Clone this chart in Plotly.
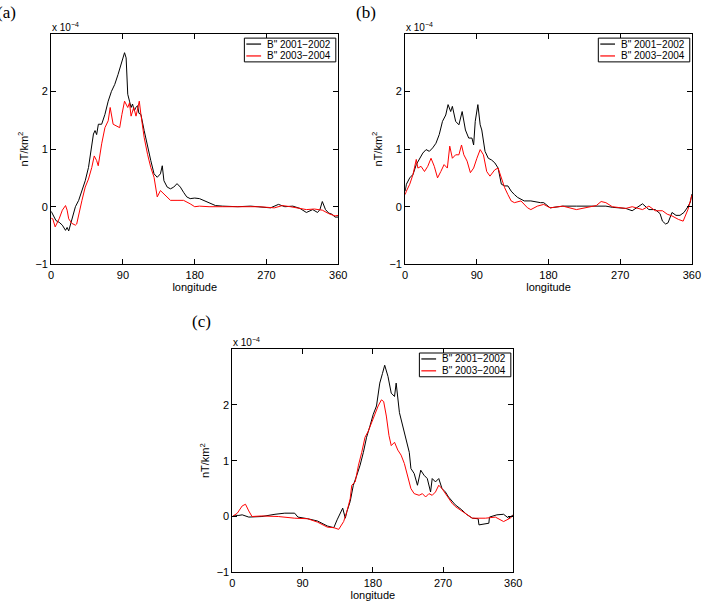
import plotly.graph_objects as go

# ---------------- data (values in units of 1e-4 nT/km^2) ----------------
a_black_lon = [0, 3, 6, 10, 14, 18, 20, 22, 24, 26, 28, 30.4, 34.5, 38.6, 42.7, 46.8, 50.9, 53, 55, 57,
               59.2, 63.3, 67.4, 71.5, 75.6, 79.7, 83.8, 87.9, 90, 92, 94, 96, 98.2, 100.2, 102, 104.3,
               106, 108.4, 110, 112.5, 116.6, 120.8, 124.9, 129, 133, 137, 139.3, 141.4, 145.5, 149.6,
               153.7, 157.8, 162, 166, 170, 174.3, 180, 186, 192, 198, 206, 215, 234, 250, 265, 275,
               285, 293, 303, 312, 320, 324, 328, 334, 337, 340, 344, 348, 352, 356, 360]
a_black = [-0.08, -0.15, -0.24, -0.27, -0.32, -0.41, -0.36, -0.42, -0.32, -0.2, -0.1, 0.0, 0.11, 0.28,
           0.45, 0.68, 1.03, 1.26, 1.32, 1.25, 1.43, 1.43, 1.6, 1.83, 2.0, 2.12, 2.29, 2.49, 2.55, 2.67,
           2.58, 1.95, 1.83, 1.72, 1.78, 1.66, 1.72, 1.75, 1.62, 1.6, 1.32, 1.03, 0.8, 0.57, 0.51, 0.57,
           0.71, 0.45, 0.34, 0.31, 0.34, 0.4, 0.34, 0.25, 0.17, 0.14, 0.15, 0.14, 0.1, 0.07, 0.02, 0.01,
           0.0, 0.01, -0.01, -0.02, 0.04, 0.0, 0.01, -0.03, -0.1, -0.08, -0.05, -0.1, -0.05, 0.09, -0.05,
           -0.11, -0.13, -0.18, -0.18]

a_red_lon = [0, 2, 5, 8, 10, 14, 18, 20, 22, 26, 30.4, 32, 34.5, 38.6, 42.7, 46.8, 50.9, 54, 57, 59,
             63.3, 67.4, 71.5, 74, 77.7, 81.8, 85.9, 88.7, 92, 96, 98.2, 100.2, 103.5, 106.4, 110.5,
             112.5, 116.6, 120.8, 124.9, 129, 133, 137, 141.4, 145.5, 149.6, 157.8, 166, 174.3, 180,
             186, 198, 215, 240, 260, 280, 290, 300, 310, 320, 330, 340, 348, 356, 360]
a_red = [-0.2, -0.21, -0.35, -0.28, -0.21, -0.06, 0.02, -0.06, -0.21, -0.29, -0.32, -0.3, -0.12, 0.11,
         0.34, 0.48, 0.68, 0.88, 0.8, 0.71, 1.09, 1.37, 1.49, 1.72, 1.43, 1.4, 1.37, 1.6, 1.83, 1.72,
         1.8, 1.57, 1.72, 1.57, 1.83, 1.6, 1.2, 0.91, 0.68, 0.51, 0.17, 0.28, 0.22, 0.17, 0.11, 0.11,
         0.11, 0.05, 0.0, 0.01, 0.0, 0.0, 0.0, 0.0, -0.02, 0.02, 0.0, -0.02, -0.05, -0.04, -0.06, -0.12,
         -0.16, -0.15]

b_black_lon = [0, 1.6, 5.8, 9.9, 14, 18.1, 22.2, 26.3, 30.4, 34.6, 38.7, 42.8, 46.9, 51, 53.9, 57.2,
               59.3, 63.4, 67.5, 71.6, 73.7, 75.7, 79.8, 83.9, 86, 88, 91.3, 94.2, 96.2, 100.3, 104.4,
               108.5, 112.6, 116.7, 120.8, 124.9, 129, 133.1, 137.2, 141.3, 149.5, 157.8, 170, 174, 182,
               198, 215, 236, 252, 260, 277, 285, 292, 298, 306, 314, 320, 323, 327, 330, 335, 340, 345,
               350, 355, 358, 360]
b_black = [0.27, 0.39, 0.5, 0.56, 0.73, 0.84, 0.93, 0.99, 0.96, 1.02, 1.1, 1.25, 1.48, 1.59, 1.77, 1.65,
           1.74, 1.48, 1.42, 1.65, 1.48, 1.33, 1.19, 1.19, 1.07, 1.48, 1.77, 1.42, 1.33, 0.96, 0.84, 0.81,
           0.76, 0.67, 0.39, 0.36, 0.36, 0.27, 0.21, 0.16, 0.1, 0.1, 0.07, 0.07, -0.02, 0.01, 0.01, 0.01,
           0.01, -0.01, -0.03, -0.07, 0.0, 0.05, -0.05, -0.05, -0.12, -0.25, -0.3, -0.28, -0.1, -0.15,
           -0.15, -0.1, 0.0, 0.08, 0.22]

b_red_lon = [0, 1.6, 5.8, 9.9, 14, 16, 20, 24.3, 28.4, 32.5, 36.6, 40.7, 44.8, 48.9, 53, 56, 59.3, 63.4,
             67.5, 70.8, 73.7, 77.8, 81.9, 86, 90.1, 94.2, 98.3, 102.4, 106.5, 112.6, 116.7, 120.8, 124.9,
             129, 133.1, 137.2, 145.4, 153.7, 157.8, 166, 174, 182, 198, 215, 230, 240, 246, 252, 260,
             277, 285, 298, 306, 314, 323, 329, 335, 343, 349, 352, 355, 360]
b_red = [0.21, 0.27, 0.39, 0.56, 0.82, 0.67, 0.7, 0.61, 0.7, 0.84, 0.7, 0.5, 0.61, 0.73, 0.67, 1.05, 0.84,
         0.9, 0.9, 1.07, 0.9, 0.79, 0.59, 0.67, 0.84, 0.99, 0.9, 0.61, 0.53, 0.64, 0.67, 0.5, 0.33, 0.21,
         0.1, 0.07, 0.1, -0.02, -0.05, 0.01, 0.04, -0.02, 0.01, -0.05, 0.0, 0.02, 0.09, 0.07, 0.0, -0.03,
         0.0, -0.05, 0.01, -0.07, -0.07, -0.13, -0.16, -0.22, -0.25, -0.15, -0.05, 0.2]

c_black_lon = [0, 4, 8.4, 12.6, 21, 37.8, 54.6, 67.2, 79.8, 84, 96.6, 109, 121.7, 130, 134.2, 138.4,
               141.4, 144.7, 146.8, 151, 155, 159.5, 163.7, 167.9, 172, 176.3, 180.5, 184.7, 188.9, 192.3,
               195.2, 199.4, 203.6, 207.8, 209.9, 214.1, 218.3, 222.5, 226.7, 228.8, 233, 237.2, 241.4,
               245.6, 249.8, 254, 256.1, 260.3, 264.5, 268.7, 273, 277, 281.4, 285.6, 294, 300, 307.5,
               315, 316, 322, 328.7, 329.5, 339, 347.6, 354, 360]
c_black = [0.0, 0.02, 0.02, 0.03, -0.01, 0.0, 0.04, 0.06, 0.06, -0.01, -0.04, -0.08, -0.17, -0.2, -0.06,
           0.06, 0.15, -0.03, 0.09, 0.27, 0.56, 0.74, 0.92, 1.15, 1.42, 1.62, 1.83, 1.98, 2.39, 2.56, 2.71,
           2.51, 2.21, 2.15, 2.39, 1.86, 1.62, 1.39, 1.15, 0.86, 0.77, 0.56, 0.83, 0.74, 0.68, 0.44, 0.68,
           0.62, 0.68, 0.5, 0.44, 0.35, 0.27, 0.21, 0.12, 0.04, -0.03, -0.04, -0.15, -0.13, -0.12, -0.01,
           0.03, 0.04, -0.03, 0.03]

c_red_lon = [0, 6.3, 12.6, 16.8, 21, 25.2, 37.8, 58.8, 79.8, 96.6, 109, 121.7, 130, 136.3, 142.6, 146.8,
             151, 153, 157.4, 161.6, 165.8, 170, 174.2, 178.4, 182.6, 186.8, 191, 193.9, 197.3, 200.7,
             203.6, 207.8, 212, 216.2, 220.4, 224.6, 228.8, 233, 239.3, 243.5, 247.7, 251.9, 256.1, 260.3,
             264.5, 268.7, 273, 277, 281.4, 285.6, 294, 300, 307.5, 324.3, 337, 347.6, 356, 360]
c_red = [0.0, 0.06, 0.19, 0.22, 0.1, 0.0, 0.01, 0.0, -0.03, -0.04, -0.1, -0.19, -0.2, -0.23, -0.09, 0.09,
         0.32, 0.56, 0.62, 0.92, 1.15, 1.42, 1.53, 1.68, 1.83, 1.98, 2.09, 2.06, 1.8, 1.45, 1.27, 1.33,
         1.19, 1.1, 0.95, 0.74, 0.5, 0.41, 0.38, 0.41, 0.35, 0.41, 0.38, 0.44, 0.56, 0.5, 0.41, 0.32, 0.24,
         0.18, 0.1, 0.04, -0.03, -0.03, -0.01, -0.09, -0.03, 0.02]

x_ticks = [0, 90, 180, 270, 360]
y_ticks = [-1, 0, 1, 2]
series_names = ['B" 2001\u22122002', 'B" 2003\u22122004']
series_colors = ["#000000", "#ff0000"]
panel_labels = ["(a)", "(b)", "(c)"]

W, H = 714, 613
SANS = "Liberation Sans"
SERIF = "Liberation Serif"

# pixel boxes of the three axes: (left, right, top, bottom)
boxes = [(49, 341, 34, 267), (409, 700.7, 34, 267), (233.3, 519, 352.5, 578)]
data = [(a_black_lon, a_black, a_red_lon, a_red),
        (b_black_lon, b_black, b_red_lon, b_red),
        (c_black_lon, c_black, c_red_lon, c_red)]


def px(x):
    return x / W


def py(y):
    return 1 - y / H


fig = go.Figure()
layout = dict(width=W, height=H, margin=dict(l=0, r=0, t=0, b=0),
              paper_bgcolor="white", plot_bgcolor="white", showlegend=False,
              font=dict(family=SANS, size=11, color="black"))
annotations = []
shapes = []

for i, ((l, r, t, b), (xb, yb, xr, yr)) in enumerate(zip(boxes, data)):
    n = "" if i == 0 else str(i + 1)
    xa, ya = "x" + n, "y" + n
    for (xs, ys), name, col in zip([(xb, yb), (xr, yr)], series_names, series_colors):
        fig.add_trace(go.Scatter(x=xs, y=ys, mode="lines", name=name,
                                 line=dict(color=col, width=1), xaxis=xa, yaxis=ya))
    axstyle = dict(showline=True, mirror="ticks", linecolor="black", linewidth=1,
                   ticks="inside", ticklen=5, tickcolor="black", showgrid=False, zeroline=False,
                   tickfont=dict(family=SANS, size=11, color="black"))
    layout["xaxis" + n] = dict(domain=[px(l), px(r)], range=[0, 360], tickvals=x_ticks,
                               anchor=ya, title=dict(text="longitude", standoff=0,
                                                     font=dict(family=SANS, size=11)), **axstyle)
    layout["yaxis" + n] = dict(domain=[py(b), py(t)], range=[-1, 3], tickvals=y_ticks,
                               anchor=xa, title=dict(text="nT/km<sup>2</sup>", standoff=4,
                                                     font=dict(family=SANS, size=11)), **axstyle)
    # legend box (drawn in paper coordinates)
    lr, lt = round(r) - 2.5, round(t) + 4.5
    ll, lb = lr - 93, lt + 24
    shapes.append(dict(type="rect", xref="paper", yref="paper", x0=px(ll), x1=px(lr),
                       y0=py(lb), y1=py(lt), line=dict(color="#000000", width=1),
                       fillcolor="white", layer="above"))
    for k, (name, col) in enumerate(zip(series_names, series_colors)):
        yy = lt + 6 + 12 * k
        shapes.append(dict(type="line", xref="paper", yref="paper", x0=px(ll + 2), x1=px(ll + 17),
                           y0=py(yy), y1=py(yy), line=dict(color=col, width=1.2), layer="above"))
        annotations.append(dict(text=name, xref="paper", yref="paper", x=px(ll + 21), y=py(yy),
                                xanchor="left", yanchor="middle", showarrow=False,
                                font=dict(family=SANS, size=10)))
    annotations.append(dict(text="x 10<sup>\u22124</sup>", xref="paper", yref="paper",
                            x=px(l - 1), y=py(t + 1), xanchor="left", yanchor="bottom",
                            showarrow=False, font=dict(family=SANS, size=10)))

label_pos = [(-8, 13), (357, 13), (190, 325)]
for lab, (lx, ly) in zip(panel_labels, label_pos):
    annotations.append(dict(text=lab, xref="paper", yref="paper", x=px(lx), y=py(ly),
                            xanchor="left", yanchor="middle", showarrow=False,
                            font=dict(family=SERIF, size=17)))

layout["annotations"] = annotations
layout["shapes"] = shapes
fig.update_layout(**layout)
fig.write_html("out.html")
